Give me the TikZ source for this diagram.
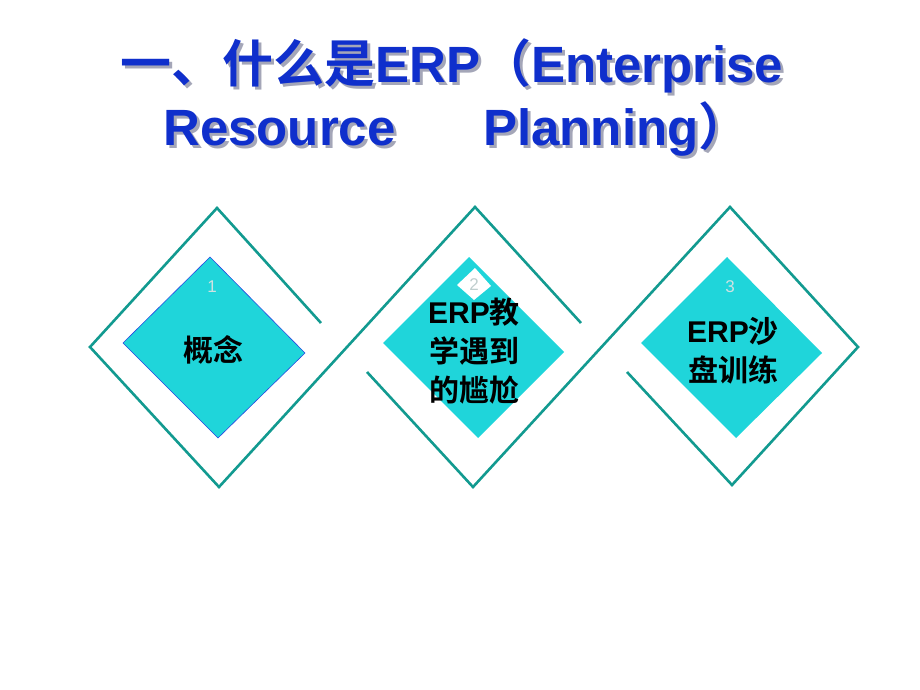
\documentclass[tikz,border=0pt]{standalone}
\usepackage{fontspec}
\setmainfont{Liberation Sans}
\newfontfamily\cjk{Noto Sans CJK SC}[BoldFont={Noto Sans CJK SC Bold}]
\usepackage{xcolor}
\usepackage{tikz}
\usetikzlibrary{calc}
\definecolor{titleblue}{HTML}{0F2FCC}
\definecolor{shade}{HTML}{A4A6B8}
\definecolor{teal}{HTML}{129A90}
\definecolor{aqua}{HTML}{1FD5DA}
\definecolor{edge}{HTML}{2848E0}
\definecolor{numgray}{HTML}{CFE2E2}
\tikzset{
  frame/.style={draw=teal, line width=2.6pt, line cap=butt, line join=miter},
  tile/.style={fill=aqua},
  tilerim/.style={draw=edge, line width=0.6pt},
  title/.style={text=titleblue, anchor=base west, inner sep=0pt, font=\bfseries\fontsize{51}{51}\selectfont},
  titleshade/.style={title, text=shade},
  num/.style={text=numgray, font=\fontsize{17}{17}\selectfont},
  lab/.style={text=black, align=center, font=\bfseries\fontsize{30}{39}\selectfont},
}

\begin{document}
\begin{tikzpicture}[x=1pt, y=-1pt]
  \useasboundingbox (0,0) rectangle (920,690);

  % title, with its shadow first
  \node[titleshade] (t1s) at (123,86) {{\cjk 一、什么是}ERP{\cjk （}Enterprise};
  \node[titleshade] (t2s) at (166,148) {Resource};
  \node[titleshade] (t3s) at (486,148) {Planning{\cjk ）}};
  \node[title] (t1) at (120,83) {{\cjk 一、什么是}ERP{\cjk （}Enterprise};
  \node[title] (t2) at (163,145) {Resource};
  \node[title] (t3) at (483,145) {Planning{\cjk ）}};

  % interlocked frames
  \coordinate (E1) at (321,323);
  \coordinate (T1) at (217,208);
  \coordinate (L1) at (90,347);
  \coordinate (B1) at (219,487);
  \coordinate (T2) at (475,207);
  \coordinate (E2) at (581,323);
  \coordinate (S2) at (367,372);
  \coordinate (B2) at (473,487);
  \coordinate (T3) at (730,207);
  \coordinate (R3) at (858,347);
  \coordinate (B3) at (732,485);
  \coordinate (S3) at (627,372);

  \draw[frame] (E1)--(T1)--(L1)--(B1)--(T2)--(E2);
  \draw[frame] (S2)--(B2)--(T3)--(R3)--(B3)--(S3);

  % filled tiles
  \path[tile, tilerim] (210,257)--(305,353)--(218,438)--(123,343)--cycle;
  \path[tile] (469,257)--(564,352)--(478,438)--(383,343)--cycle;
  \path[tile] (727,257)--(822,353)--(736,438)--(641,343)--cycle;
  \path[fill=white] (475,268)--(491,286)--(474,300)--(457,285)--cycle;

  \node[num] (n1) at (212,287) {1};
  \node[num, text=numgray!80!gray] (n2) at (474,285) {2};
  \node[num] (n3) at (730,287) {3};

  \node[lab] (c1) at (213,350) {\cjk 概念};
  \node[lab] (c2) at (474,351) {ERP{\cjk 教}\\{\cjk 学遇到}\\{\cjk 的尴尬}};
  \node[lab] (c3) at (733,351) {ERP{\cjk 沙}\\{\cjk 盘训练}};
\end{tikzpicture}
\end{document}
